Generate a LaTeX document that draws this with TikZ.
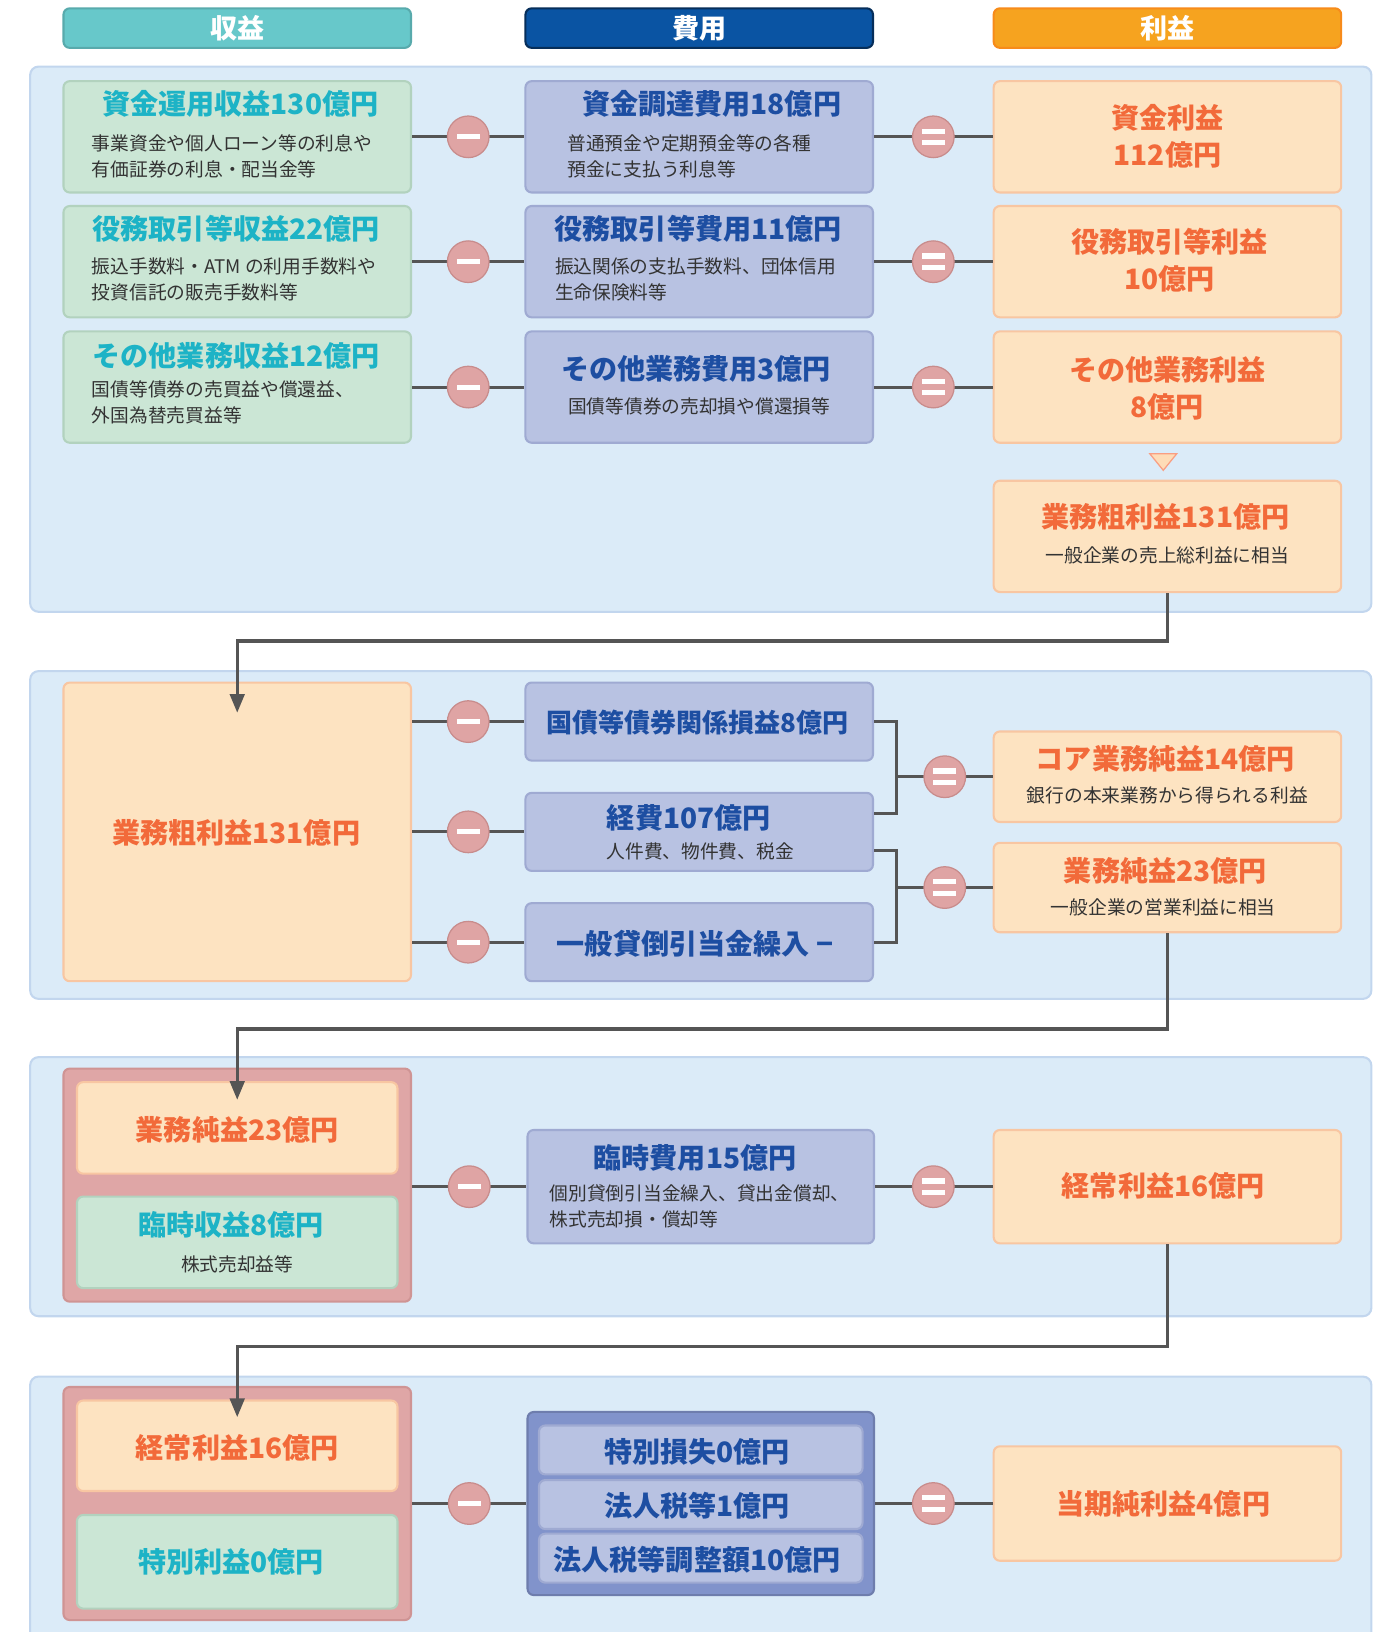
\documentclass[tikz,border=0pt]{standalone}
\usepackage{fontspec}
\usepackage{tikz}
\usetikzlibrary{arrows.meta, calc}
\newfontfamily\jpfont{Noto Sans CJK JP}

\definecolor{panelbg}{HTML}{DBEBF8}
\definecolor{panelln}{HTML}{C2D6EE}
\definecolor{revfill}{HTML}{CBE6D5}
\definecolor{revline}{HTML}{B2D2BE}
\definecolor{costfill}{HTML}{B8C2E2}
\definecolor{costline}{HTML}{9FAAD2}
\definecolor{proffill}{HTML}{FDE3C1}
\definecolor{profline}{HTML}{F8C6A2}
\definecolor{revtxt}{HTML}{1DB3C6}
\definecolor{costtxt}{HTML}{1D4EA2}
\definecolor{proftxt}{HTML}{F26A3A}
\definecolor{subtxt}{HTML}{333333}
\definecolor{hrev}{HTML}{67C8CA}
\definecolor{hcost}{HTML}{0A54A3}
\definecolor{hprof}{HTML}{F6A31F}
\definecolor{opfill}{HTML}{DFA4A4}
\definecolor{opline}{HTML}{C88C8C}
\definecolor{pinkbox}{HTML}{DFA6A6}
\definecolor{pinkline}{HTML}{CF9494}
\definecolor{navybox}{HTML}{8193CB}
\definecolor{linkgray}{HTML}{555555}

\begin{document}
\begin{tikzpicture}[x=0.5pt, y=-0.5pt,
	box/.style={rounded corners=3pt, line width=1pt, inner sep=0pt, minimum width=167pt, minimum height=53.5pt},
	rev/.style={box, fill=revfill, draw=revline},
	cost/.style={box, fill=costfill, draw=costline},
	prof/.style={box, fill=proffill, draw=profline},
	panel/.style={rounded corners=4pt, fill=panelbg, draw=panelln, line width=1pt, inner sep=0pt, minimum width=644.5pt},
	hdr/.style={rounded corners=3pt, line width=1pt, minimum width=167pt, minimum height=19pt, inner sep=0pt, text=white, font=\jpfont\bfseries\fontsize{13}{15}\selectfont},
	ttl/.style={font=\jpfont\bfseries\fontsize{13.5}{18}\selectfont, inner sep=0pt, align=center},
	sub/.style={font=\jpfont\fontsize{9}{12.5}\selectfont, text=subtxt, inner sep=0pt, align=left},
	link/.style={draw=linkgray, line width=1.5pt},
	flow/.style={link, -{Triangle[width=7pt,length=9pt]}},
	opcirc/.style={circle, fill=opfill, draw=opline, line width=0.6pt, minimum size=20pt, inner sep=0pt},
	minus/.style={opcirc, path picture={
		\fill[white] ([xshift=-5.5pt,yshift=-1.2pt]path picture bounding box.center) rectangle ([xshift=5.5pt,yshift=1.2pt]path picture bounding box.center);}},
	equal/.style={opcirc, path picture={
		\fill[white] ([xshift=-5.5pt,yshift=1.5pt]path picture bounding box.center) rectangle ([xshift=5.5pt,yshift=4pt]path picture bounding box.center);
		\fill[white] ([xshift=-5.5pt,yshift=-1.5pt]path picture bounding box.center) rectangle ([xshift=5.5pt,yshift=-4pt]path picture bounding box.center);}}]
\useasboundingbox (0,0) rectangle (1335,1568.5);

% headers
\node[hdr, fill=hrev, draw=hrev!85!black] (hRev) at (228,27) {収益};
\node[hdr, fill=hcost, draw=hcost!55!black] (hCost) at (672,27) {費用};
\node[hdr, fill=hprof, draw=hprof!85!red] (hProf) at (1122,27) {利益};

% panels
\node[panel, minimum height=262pt] (p1) at (673.5,326) {};
\node[panel, minimum height=157.5pt] (p2) at (673.5,802.5) {};
\node[panel, minimum height=124.5pt] (p3) at (673.5,1140.5) {};
\node[panel, minimum height=131pt] (p4) at (673.5,1454) {};

% panel 1
\node[rev] (r1) at (228,131.5) {};
\node[ttl, text=revtxt] (r1t) at (231,100) {資金運用収益130億円};
\node[sub, anchor=west] (r1s) at (88,150) {事業資金や個人ローン等の利息や\\有価証券の利息・配当金等};
\node[cost] (c1) at (672,131.5) {};
\node[ttl, text=costtxt] (c1t) at (684,100) {資金調達費用18億円};
\node[sub, anchor=west] (c1s) at (545,150) {普通預金や定期預金等の各種\\預金に支払う利息等};
\node[prof] (f1) at (1122,131.5) {};
\node[ttl, text=proftxt] (f1t) at (1122,131) {資金利益\\112億円};

\node[rev] (r2) at (228,251.5) {};
\node[ttl, text=revtxt] (r2t) at (227,220) {役務取引等収益22億円};
\node[sub, anchor=west] (r2s) at (88,269) {振込手数料・ATM の利用手数料や\\投資信託の販売手数料等};
\node[cost] (c2) at (672,251.5) {};
\node[ttl, text=costtxt] (c2t) at (671,220) {役務取引等費用11億円};
\node[sub, anchor=west] (c2s) at (533,269) {振込関係の支払手数料、団体信用\\生命保険料等};
\node[prof] (f2) at (1122,251.5) {};
\node[ttl, text=proftxt] (f2t) at (1124,250) {役務取引等利益\\10億円};

\node[rev] (r3) at (228,372) {};
\node[ttl, text=revtxt] (r3t) at (227,342) {その他業務収益12億円};
\node[sub, anchor=west] (r3s) at (88,387) {国債等債券の売買益や償還益、\\外国為替売買益等};
\node[cost] (c3) at (672,372) {};
\node[ttl, text=costtxt] (c3t) at (669,355) {その他業務費用3億円};
\node[sub] (c3s) at (672,391) {国債等債券の売却損や償還損等};
\node[prof] (f3) at (1122,372) {};
\node[ttl, text=proftxt] (f3t) at (1122,373) {その他業務利益\\8億円};

\filldraw[fill=proffill!70!orange!60, draw=profline!80!red, line width=0.6pt] (1105,436) -- (1131,436) -- (1118,452) -- cycle;

\node[prof] (gross) at (1122,515.5) {};
\node[ttl, text=proftxt] (grosst) at (1120,497) {業務粗利益131億円};
\node[sub] (grosss) at (1122,534) {一般企業の売上総利益に相当};

\foreach \i in {1,2,3} {
	\draw[link] (r\i) -- (c\i);
	\draw[link] (c\i) -- (f\i);
	\node[minus] (m\i) at ($(r\i.east)!0.5!(c\i.west)$) {};
	\node[equal] (e\i) at ($(c\i.east)!0.5!(f\i.west)$) {};
}

% panel 2
\node[prof, minimum height=143.5pt] (gross2) at (228,799.5) {};
\node[ttl, text=proftxt] (gross2t) at (227,800) {業務粗利益131億円};
\node[cost, minimum height=37.5pt] (c4) at (672,693.5) {};
\node[ttl, text=costtxt, font=\jpfont\bfseries\fontsize{12.5}{15}\selectfont] (c4t) at (670,694) {国債等債券関係損益8億円};
\node[cost, minimum height=37.5pt] (c5) at (672,799.5) {};
\node[ttl, text=costtxt] (c5t) at (662,786) {経費107億円};
\node[sub] (c5s) at (673,818) {人件費、物件費、税金};
\node[cost, minimum height=37.5pt] (c6) at (672,905.5) {};
\node[ttl, text=costtxt] (c6t) at (668,907) {一般貸倒引当金繰入 −};
\node[prof, minimum height=43.5pt] (core) at (1122,746.5) {};
\node[ttl, text=proftxt] (coret) at (1120,729) {コア業務純益14億円};
\node[sub] (cores) at (1122,764) {銀行の本来業務から得られる利益};
\node[prof, minimum height=43pt] (net) at (1122,853) {};
\node[ttl, text=proftxt] (nett) at (1120,837) {業務純益23億円};
\node[sub] (nets) at (1118,872) {一般企業の営業利益に相当};

\coordinate (b1) at (862,0);
\coordinate (k1) at ([yshift=9pt]c5.east);
\coordinate (k2) at ([yshift=-9pt]c5.east);
\foreach \j in {4,5,6} {
	\draw[link] (gross2.east |- c\j.west) -- (c\j.west);
	\node[minus] (m\j) at (450,0 |- c\j.west) {};
}
\draw[link] (c4.east) -| (b1 |- k1) -- (k1);
\draw[link] (k2) -| (b1 |- c6.east) -- (c6.east);
\draw[link] (b1 |- core.west) -- (core.west);
\draw[link] (b1 |- net.west) -- (net.west);
\node[equal] (e4) at (908,0 |- core.west) {};
\node[equal] (e5) at (908,0 |- net.west) {};

\coordinate (a1) at (228,685);
\draw[flow] (gross.south) -- ++(0,46) -| (a1);

% panel 3
\node[box, fill=pinkbox, draw=pinkline, minimum height=112pt] (grp3) at (228,1139) {};
\node[prof, minimum width=154pt, minimum height=44pt] (net2) at (228,1084) {};
\node[ttl, text=proftxt] (net2t) at (228,1086) {業務純益23億円};
\node[rev, minimum width=154pt, minimum height=44pt] (r4) at (228,1194) {};
\node[ttl, text=revtxt] (r4t) at (222,1177) {臨時収益8億円};
\node[sub] (r4s) at (228,1215) {株式売却益等};
\node[cost, minimum width=166.5pt, minimum height=54.5pt] (c7) at (673.5,1140.5) {};
\node[ttl, text=costtxt] (c7t) at (668,1113) {臨時費用15億円};
\node[sub, anchor=west] (c7s) at (528,1159) {個別貸倒引当金繰入、貸出金償却、\\株式売却損・償却等};
\node[prof, minimum height=54.5pt] (ord) at (1122,1140.5) {};
\node[ttl, text=proftxt] (ordt) at (1118,1140) {経常利益16億円};

\draw[link] (grp3.east |- c7.west) -- (c7.west);
\draw[link] (c7) -- (ord);
\node[minus] (m7) at (451,1140.5) {};
\node[equal] (e7) at (897,1140.5) {};

\coordinate (a2) at (228,1057);
\draw[flow] (net.south) -- ++(0,92) -| (a2);

% panel 4
\node[box, fill=pinkbox, draw=pinkline, minimum height=112pt] (grp4) at (228,1445) {};
\node[prof, minimum width=154pt, minimum height=43.5pt] (ord2) at (228,1389.5) {};
\node[ttl, text=proftxt] (ord2t) at (228,1391) {経常利益16億円};
\node[rev, minimum width=154pt, minimum height=45pt] (r5) at (228,1501) {};
\node[ttl, text=revtxt] (r5t) at (222,1501) {特別利益0億円};
\node[box, fill=navybox, draw=navybox!85!black, minimum width=166.5pt, minimum height=88pt] (grp5) at (673.5,1445) {};
\node[cost, minimum width=155.5pt, minimum height=23.5pt] (c8) at (673.5,1393.5) {};
\node[ttl, text=costtxt] (c8t) at (670,1395) {特別損失0億円};
\node[cost, minimum width=155.5pt, minimum height=23.5pt] (c9) at (673.5,1446) {};
\node[ttl, text=costtxt] (c9t) at (670,1447) {法人税等1億円};
\node[cost, minimum width=155.5pt, minimum height=23.5pt] (c10) at (673.5,1497.5) {};
\node[ttl, text=costtxt] (c10t) at (670,1499) {法人税等調整額10億円};
\node[prof, minimum height=55pt] (net3) at (1122,1445) {};
\node[ttl, text=proftxt] (net3t) at (1118,1445) {当期純利益4億円};

\draw[link] (grp4) -- (grp5);
\draw[link] (grp5) -- (net3);
\node[minus] (m8) at (451,1445) {};
\node[equal] (e8) at (897,1445) {};

\coordinate (a3) at (228,1362);
\draw[flow] (ord.south) -- ++(0,98) -| (a3);
\end{tikzpicture}
\end{document}
